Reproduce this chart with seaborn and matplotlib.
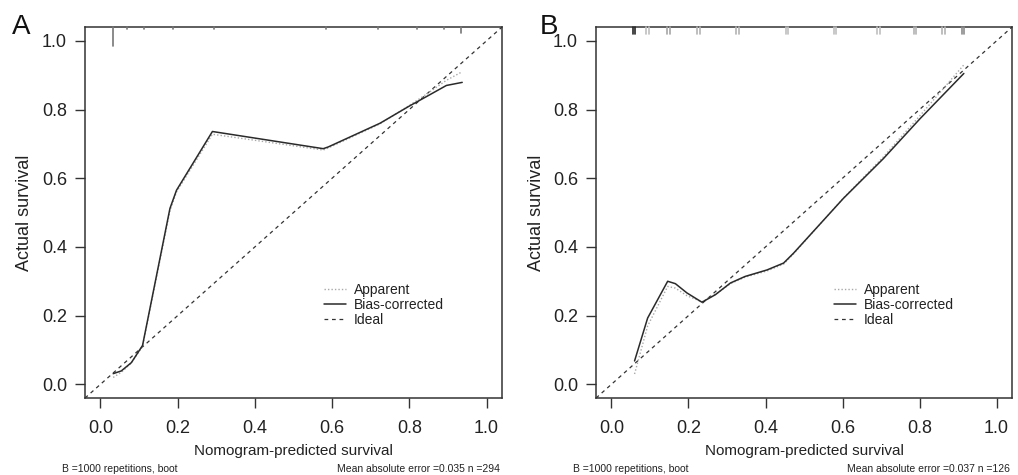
import matplotlib
matplotlib.use("Agg")
import matplotlib.pyplot as plt
import matplotlib.transforms as mtransforms
import seaborn as sns
import numpy as np

# ---- panel A data ----
a_pred = [0.033, 0.054, 0.080, 0.109, 0.180, 0.197, 0.290, 0.577, 0.590, 0.724, 0.800, 0.845, 0.896, 0.937]
a_bias = [0.031, 0.039, 0.063, 0.113, 0.512, 0.565, 0.736, 0.686, 0.691, 0.760, 0.810, 0.838, 0.870, 0.879]
a_app = [0.020, 0.035, 0.062, 0.110, 0.505, 0.560, 0.728, 0.682, 0.688, 0.758, 0.812, 0.845, 0.885, 0.910]
a_rug_x = [0.032, 0.069, 0.114, 0.187, 0.295, 0.585, 0.718, 0.821, 0.891, 0.934]
a_rug_h = [0.05, 0.006, 0.004, 0.004, 0.004, 0.004, 0.004, 0.004, 0.004, 0.015]

# ---- panel B data ----
b_pred = [0.060, 0.094, 0.146, 0.166, 0.196, 0.235, 0.270, 0.309, 0.347, 0.404, 0.447, 0.473, 0.602, 0.706, 0.801, 0.915]
b_bias = [0.068, 0.193, 0.300, 0.293, 0.266, 0.239, 0.261, 0.295, 0.314, 0.333, 0.353, 0.382, 0.541, 0.657, 0.773, 0.905]
b_app = [0.030, 0.170, 0.285, 0.280, 0.258, 0.240, 0.262, 0.293, 0.312, 0.330, 0.350, 0.380, 0.542, 0.662, 0.782, 0.930]
b_rug_x = [0.058, 0.094, 0.148, 0.226, 0.326, 0.455, 0.580, 0.692, 0.788, 0.861, 0.912]
b_rug_shade = [0.85, 0.25, 0.35, 0.3, 0.3, 0.25, 0.25, 0.25, 0.3, 0.3, 0.45]

footers = [("B =1000 repetitions, boot", "Mean absolute error =0.035 n =294"),
           ("B =1000 repetitions, boot", "Mean absolute error =0.037 n =126")]

sns.set_theme(style="white")
plt.rcParams['font.family'] = ['Liberation Sans', 'DejaVu Sans']

fig = plt.figure(figsize=(10.18, 4.75), dpi=100)
ax_a = fig.add_axes([0.0835, 0.162, 0.4096, 0.781])
ax_b = fig.add_axes([0.5855, 0.162, 0.4086, 0.781])


def draw_panel(ax, pred, bias, app, letter, letter_x, foot):
    ax.axline((0, 0), slope=1, color="#333333", lw=0.9, ls=(0, (3, 3)), label="Ideal", zorder=1)
    sns.lineplot(x=pred, y=app, ax=ax, sort=False, color="#a8a8a8", lw=1.0,
                 ls=(0, (1, 1.5)), label="Apparent", zorder=2)
    sns.lineplot(x=pred, y=bias, ax=ax, sort=False, color="#2a2a2a", lw=1.1,
                 label="Bias-corrected", zorder=3)
    ax.set_xlim(-0.04, 1.04)
    ax.set_ylim(-0.04, 1.04)
    ticks = np.arange(0, 1.01, 0.2)
    ax.set_xticks(ticks)
    ax.set_yticks(ticks)
    ax.set_xticklabels([f"{t:.1f}" for t in ticks])
    ax.set_yticklabels([f"{t:.1f}" for t in ticks])
    ax.tick_params(direction="out", length=7, width=1, color="#333333",
                   labelsize=13, labelcolor="#222222",
                   bottom=True, left=True)
    ax.tick_params(axis="x", pad=9)
    ax.tick_params(axis="y", pad=6)
    for s in ax.spines.values():
        s.set_color("#333333")
        s.set_linewidth(1.1)
        s.set_visible(True)
    ax.set_xlabel("Nomogram-predicted survival", fontsize=11, color="#222222", labelpad=5)
    ax.set_ylabel("Actual survival", fontsize=13, color="#222222", labelpad=6)

    handles, labels = ax.get_legend_handles_labels()
    order = [labels.index(n) for n in ["Apparent", "Bias-corrected", "Ideal"]]
    ax.legend([handles[i] for i in order], [labels[i] for i in order],
              loc="upper left", bbox_to_anchor=(0.556, 0.33), frameon=False,
              fontsize=10, handlelength=1.6, handletextpad=0.55,
              labelspacing=0.1, borderpad=0, labelcolor="#222222")

    ax.text(letter_x, 1.0, letter, transform=ax.transAxes, fontsize=20,
            color="#111111", va="center", ha="left")
    ax.text(-0.055, -0.19, foot[0], transform=ax.transAxes, fontsize=7.5,
            color="#222222", va="center", ha="left")
    ax.text(0.995, -0.19, foot[1], transform=ax.transAxes, fontsize=7.5,
            color="#222222", va="center", ha="right")


draw_panel(ax_a, a_pred, a_bias, a_app, "A", -0.175, footers[0])
draw_panel(ax_b, b_pred, b_bias, b_app, "B", -0.135, footers[1])

# rug of predicted risks along the top edge
trans_a = mtransforms.blended_transform_factory(ax_a.transData, ax_a.transAxes)
for x, h in zip(a_rug_x, a_rug_h):
    ax_a.plot([x, x], [1.0, 1.0 - h], transform=trans_a, color="#777777", lw=1.2,
              clip_on=False, zorder=4)

trans_b = mtransforms.blended_transform_factory(ax_b.transData, ax_b.transAxes)
for x, c in zip(b_rug_x, b_rug_shade):
    g = str(1 - c)
    ax_b.plot([x - 0.003, x - 0.003], [1.0, 0.982], transform=trans_b, color=g,
              lw=1.2, clip_on=False, zorder=4)
    ax_b.plot([x + 0.004, x + 0.004], [1.0, 0.982], transform=trans_b, color=g,
              lw=1.2, clip_on=False, zorder=4)

fig.savefig("out.png", dpi=100)
